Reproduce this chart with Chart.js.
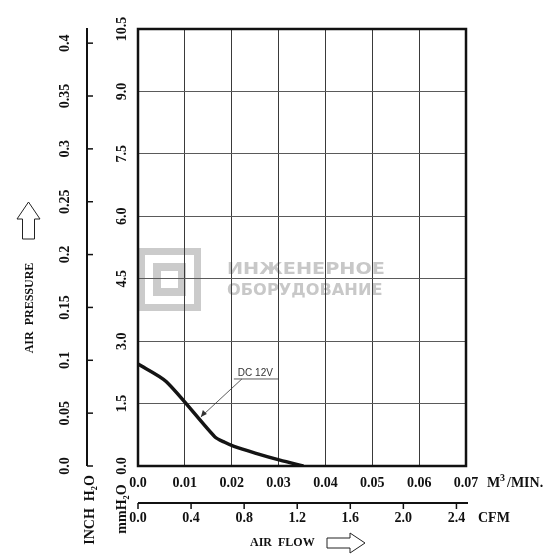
<!DOCTYPE html>
<html>
<head>
<meta charset="utf-8">
<script src="https://cdn.jsdelivr.net/npm/chart.js@4/dist/chart.umd.min.js"></script>
<style>
  html, body { margin: 0; padding: 0; background: #fff; }
  #wrap { width: 554px; height: 559px; }
</style>
</head>
<body>
<div id="wrap"><canvas id="fanCurve" width="554" height="559"></canvas></div>
<script>
// air flow (m3/min) vs static pressure (mmH2O)
const flowM3 = [0, 0.006, 0.0164, 0.0185, 0.0205, 0.025, 0.0303, 0.0353]
const pressureMm = [2.45, 2.03, 0.7, 0.57, 0.47, 0.31, 0.14, 0]

const flowTicks = [0, 0.01, 0.02, 0.03, 0.04, 0.05, 0.06, 0.07]
const flowLabels = ['0.0', '0.01', '0.02', '0.03', '0.04', '0.05', '0.06', '0.07']
const cfmTicks = [0, 0.4, 0.8, 1.2, 1.6, 2.0, 2.4]
const cfmLabels = ['0.0', '0.4', '0.8', '1.2', '1.6', '2.0', '2.4']
const mmTicks = [0, 1.5, 3, 4.5, 6, 7.5, 9, 10.5]
const mmLabels = ['0.0', '1.5', '3.0', '4.5', '6.0', '7.5', '9.0', '10.5']
const inchTicks = [0, 0.05, 0.1, 0.15, 0.2, 0.25, 0.3, 0.35, 0.4]
const inchLabels = ['0.0', '0.05', '0.1', '0.15', '0.2', '0.25', '0.3', '0.35', '0.4']

const seriesName = 'DC 12V'
const CFM_PER_M3 = 35.3147
const MM_PER_INCH = 25.4

const serif = '"Liberation Serif", "DejaVu Serif", serif'

function vText(ctx, txt, x, y) {
    ctx.save()
    ctx.translate(x, y)
    ctx.rotate(-Math.PI / 2)
    ctx.fillText(txt, 0, 0)
    ctx.restore()
}

const watermark = {
    id: 'watermark',
    beforeDraw(chart) {
        const ctx = chart.ctx
        ctx.save()
        ctx.fillStyle = '#fff'
        ctx.fillRect(0, 0, chart.width, chart.height)
        ctx.fillStyle = '#cbcbcb'
        // logo: two nested square rings
        ctx.fillRect(138, 248, 63, 63)
        ctx.fillStyle = '#fff'
        ctx.fillRect(145, 255, 49, 49)
        ctx.fillStyle = '#cbcbcb'
        ctx.fillRect(153, 263, 33, 33)
        ctx.fillStyle = '#fff'
        ctx.fillRect(161, 271, 17, 17)
        ctx.fillStyle = '#c8c8c8'
        ctx.font = 'bold 18px "DejaVu Sans", sans-serif'
        ctx.textBaseline = 'middle'
        ctx.textAlign = 'left'
        ctx.save()
        ctx.translate(227, 270)
        ctx.scale(1.07, 0.85)
        ctx.fillText('ИНЖЕНЕРНОЕ', 0, 0)
        ctx.restore()
        ctx.save()
        ctx.translate(227, 291)
        ctx.scale(0.9, 0.85)
        ctx.fillText('ОБОРУДОВАНИЕ', 0, 0)
        ctx.restore()
        ctx.restore()
    }
}

const axesDecor = {
    id: 'axesDecor',
    afterDraw(chart) {
        const ctx = chart.ctx
        const xs = chart.scales.x
        const ys = chart.scales.y
        const a = chart.chartArea
        ctx.save()
        ctx.strokeStyle = '#111'
        ctx.fillStyle = '#111'

        // plot frame
        ctx.lineWidth = 2.5
        ctx.strokeRect(a.left, a.top, a.right - a.left, a.bottom - a.top)

        // mmH2O labels
        ctx.font = 'bold 14px ' + serif
        ctx.textAlign = 'center'
        ctx.textBaseline = 'middle'
        mmTicks.forEach((v, i) => vText(ctx, mmLabels[i], 122, ys.getPixelForValue(v)))

        // inch H2O axis
        ctx.lineWidth = 2
        ctx.beginPath()
        ctx.moveTo(87, 28)
        ctx.lineTo(87, ys.getPixelForValue(0))
        ctx.stroke()
        ctx.lineWidth = 1.5
        inchTicks.forEach((v, i) => {
            const py = ys.getPixelForValue(v * MM_PER_INCH)
            ctx.beginPath()
            ctx.moveTo(87, py)
            ctx.lineTo(93, py)
            ctx.stroke()
            vText(ctx, inchLabels[i], 65, py)
        })

        // m3/min labels
        flowTicks.forEach((v, i) => ctx.fillText(flowLabels[i], xs.getPixelForValue(v), 483))

        // CFM axis
        const cfmY = 503
        ctx.lineWidth = 2
        ctx.beginPath()
        ctx.moveTo(a.left, cfmY)
        ctx.lineTo(468, cfmY)
        ctx.stroke()
        ctx.lineWidth = 1.5
        cfmTicks.forEach((v, i) => {
            const px = xs.getPixelForValue(v / CFM_PER_M3)
            ctx.beginPath()
            ctx.moveTo(px, cfmY)
            ctx.lineTo(px, cfmY + 6)
            ctx.stroke()
            ctx.fillText(cfmLabels[i], px, 518)
        })

        // unit captions
        ctx.textAlign = 'left'
        ctx.fillText('M', 487, 483)
        ctx.font = 'bold 10px ' + serif
        ctx.fillText('3', 500, 478)
        ctx.font = 'bold 14px ' + serif
        ctx.fillText('/MIN.', 507, 483)
        ctx.fillText('CFM', 478, 518)
        ctx.textAlign = 'center'
        vText(ctx, 'INCH  H\u2082O', 90, 510)
        vText(ctx, 'mmH\u2082O', 122, 509)

        ctx.font = 'bold 12px ' + serif
        ctx.textAlign = 'left'
        ctx.fillText('AIR  FLOW', 250, 543)
        ctx.textAlign = 'center'
        vText(ctx, 'AIR  PRESSURE', 30, 308)

        // hollow arrows
        ctx.lineWidth = 1
        ctx.strokeStyle = '#222'
        ctx.beginPath()
        ctx.moveTo(327, 538); ctx.lineTo(350, 538); ctx.lineTo(350, 533)
        ctx.lineTo(365, 543); ctx.lineTo(350, 553); ctx.lineTo(350, 548)
        ctx.lineTo(327, 548); ctx.closePath()
        ctx.stroke()
        ctx.beginPath()
        ctx.moveTo(22.5, 239); ctx.lineTo(22.5, 219); ctx.lineTo(17, 219)
        ctx.lineTo(28.5, 202); ctx.lineTo(40, 219); ctx.lineTo(34.5, 219)
        ctx.lineTo(34.5, 239); ctx.closePath()
        ctx.stroke()

        // series callout, anchored on the curve at 0.0132 m3/min
        const tx = xs.getPixelForValue(0.0132)
        const ty = ys.getPixelForValue(1.13)
        const lx = tx + 42, ly = ty - 40
        ctx.strokeStyle = '#333'
        ctx.lineWidth = 0.8
        ctx.beginPath()
        ctx.moveTo(lx - 8, ly)
        ctx.lineTo(lx + 37, ly)
        ctx.moveTo(lx, ly)
        ctx.lineTo(tx + 1, ty - 2)
        ctx.stroke()
        ctx.beginPath()
        ctx.moveTo(tx + 1, ty - 2)
        ctx.lineTo(tx + 3, ty - 9)
        ctx.lineTo(tx + 7, ty - 5)
        ctx.closePath()
        ctx.fillStyle = '#333'
        ctx.fill()
        ctx.font = '10px "Liberation Sans", Arial, sans-serif'
        ctx.textAlign = 'left'
        ctx.textBaseline = 'alphabetic'
        ctx.fillText(seriesName, lx - 4, ly - 3)
        ctx.restore()
    }
}

const ctx = document.getElementById('fanCurve').getContext('2d')

new Chart(ctx, {
    type: 'line',
    data: {
        datasets: [{
            label: seriesName,
            data: flowM3.map((f, i) => ({ x: f, y: pressureMm[i] })),
            borderColor: '#141414',
            borderWidth: 3.5,
            tension: 0.25,
            pointRadius: 0,
            fill: false
        }]
    },
    options: {
        responsive: false,
        animation: false,
        layout: { padding: { left: 138, top: 29, right: 88, bottom: 93 } },
        scales: {
            x: {
                type: 'linear',
                min: 0, max: 0.07,
                ticks: { display: false, stepSize: 0.01 },
                grid: { color: '#3a3a3a', lineWidth: 1, drawTicks: false },
                border: { display: false }
            },
            y: {
                min: 0, max: 10.5,
                ticks: { display: false, stepSize: 1.5 },
                grid: { color: '#5a5a5a', lineWidth: 1, drawTicks: false },
                border: { display: false }
            }
        },
        plugins: {
            legend: { display: false },
            tooltip: { enabled: false }
        }
    },
    plugins: [watermark, axesDecor]
})
</script>
</body>
</html>
